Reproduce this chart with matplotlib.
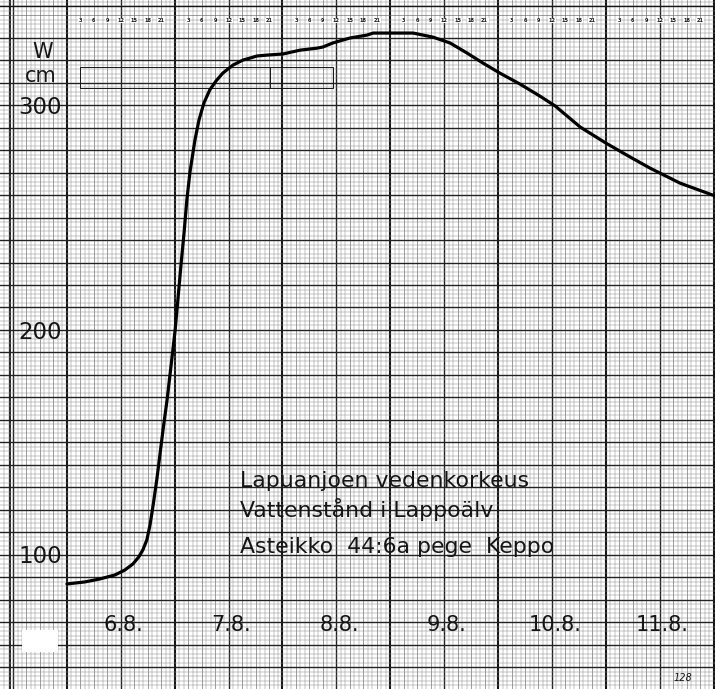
import matplotlib
matplotlib.use("Agg")
import matplotlib.pyplot as plt
from matplotlib.patches import Rectangle

# ---- data (hours from 6.8. 00:00, water level in cm) ----
hours = [0.0, 4.0, 7.3, 10.7, 12.9, 14.7, 16.0, 16.9, 17.8, 18.5, 19.2, 20.0,
         20.7, 21.4, 22.3, 23.2, 24.1, 24.7, 25.4, 26.1, 26.7, 27.4, 28.5,
         29.4, 30.5, 31.8, 33.2, 34.7, 37.0, 39.2, 40.8, 42.3, 44.5, 48.1,
         51.9, 55.7, 57.0, 59.2, 63.0, 66.8, 68.2, 74.2, 77.1, 81.5, 85.3,
         89.1, 92.6, 96.4, 100.9, 105.3, 108.7, 114.3, 120.0, 125.4, 129.8,
         136.5, 144.3]
level = [87.1, 88.0, 89.3, 91.1, 93.3, 96.0, 99.1, 102.2, 106.7, 113.3, 122.2,
         133.3, 144.4, 155.6, 168.9, 184.4, 200.0, 213.3, 228.9, 243.6, 257.8,
         270.2, 284.4, 293.3, 300.9, 306.7, 310.7, 314.2, 317.8, 320.0, 320.9,
         321.8, 322.2, 322.7, 324.4, 325.3, 325.8, 327.6, 329.8, 331.1, 332.0,
         332.0, 332.0, 330.2, 327.6, 323.1, 318.7, 314.2, 309.3, 304.0, 299.6,
         290.2, 283.1, 276.9, 272.0, 265.3, 259.6]

day_labels = ["6.8.", "7.8.", "8.8.", "9.8.", "10.8.", "11.8."]
hour_labels = ["3", "6", "9", "12", "15", "18", "21"]
y_labels = [100, 200, 300]
title_lines = ["Lapuanjoen vedenkorkeus",
               "Vattenstånd i Lappoälv",
               "Asteikko  44:6a pege  Keppo"]

X0, X1 = -14.9, 144.3
Y0, Y1 = 40.4, 346.7

fig = plt.figure(figsize=(7.15, 6.89), dpi=100)
ax = fig.add_axes([0, 0, 1, 1])
ax.set_xlim(X0, X1)
ax.set_ylim(Y0, Y1)
ax.axis("off")
fig.patch.set_facecolor("white")

ink = "#151515"
# vertical grid
for h in range(-14, 145):
    if h % 24 == 0:
        lw, c = 1.5, ink
    elif h % 12 == 0:
        lw, c = 1.0, "#222222"
    elif h % 3 == 0:
        lw, c = 0.45, "#666666"
    else:
        lw, c = 0.35, "#8a8a8a"
    ax.axvline(h, color=c, lw=lw, zorder=1)
ax.axvline(-12.7, color=ink, lw=1.3, zorder=1)

# horizontal grid
for v in range(42, 347, 2):
    if v % 10 == 0 and v < 340:
        lw, c = 1.0, "#222222"
    elif v % 10 == 0:
        lw, c = 0.45, "#666666"
    else:
        lw, c = 0.35, "#8a8a8a"
    ax.axhline(v, color=c, lw=lw, zorder=1)
ax.axhline(344.0, color=ink, lw=1.0, zorder=1)

# hour numbers on top row
for d in range(6):
    for i, hl in enumerate(hour_labels):
        ax.text(d * 24 + (i + 1) * 3, 337.6, hl, fontsize=3.6, fontweight="bold",
                ha="center", va="center", color=ink, zorder=3,
                bbox=dict(facecolor="white", edgecolor="none", pad=0.3))

# rectangle annotation box
ax.add_patch(Rectangle((2.9, 307.6), 56.3, 9.3, fill=False, lw=0.7,
                       edgecolor=ink, zorder=2))
ax.plot([45.2, 45.2], [307.6, 316.9], color=ink, lw=0.7, zorder=2)

# white patch bottom left
ax.add_patch(Rectangle((-9.9, 56.9), 7.9, 9.8, facecolor="white",
                       edgecolor="none", zorder=4))

# curve
ax.plot(hours, level, color="black", lw=2.3, solid_capstyle="round",
        solid_joinstyle="round", zorder=5)

# y labels
for v in y_labels:
    ax.text(-6.0, v - 3.8, str(v), fontsize=16.5, ha="center", va="baseline",
            color=ink, zorder=6)
ax.text(-5.3, 320.9, "W", fontsize=15, ha="center", va="baseline", color=ink, zorder=6)
ax.text(-5.8, 310.2, "cm", fontsize=15, ha="center", va="baseline", color=ink, zorder=6)

# day labels
for d, lab in enumerate(day_labels):
    ax.text(d * 24 + 12.6, 66.2, lab, fontsize=15, ha="center", va="baseline",
            color=ink, zorder=6)

# title block
baselines = [130.2, 116.9, 100.9]
for t, b in zip(title_lines, baselines):
    ax.text(38.5, b, t, fontsize=15.8, ha="left", va="baseline",
            color=ink, zorder=6)

ax.text(137.2, 45.3, "128", fontsize=7, style="italic", ha="center", va="center",
        color=ink, zorder=6)

fig.savefig("out.png", dpi=100, facecolor="white")
